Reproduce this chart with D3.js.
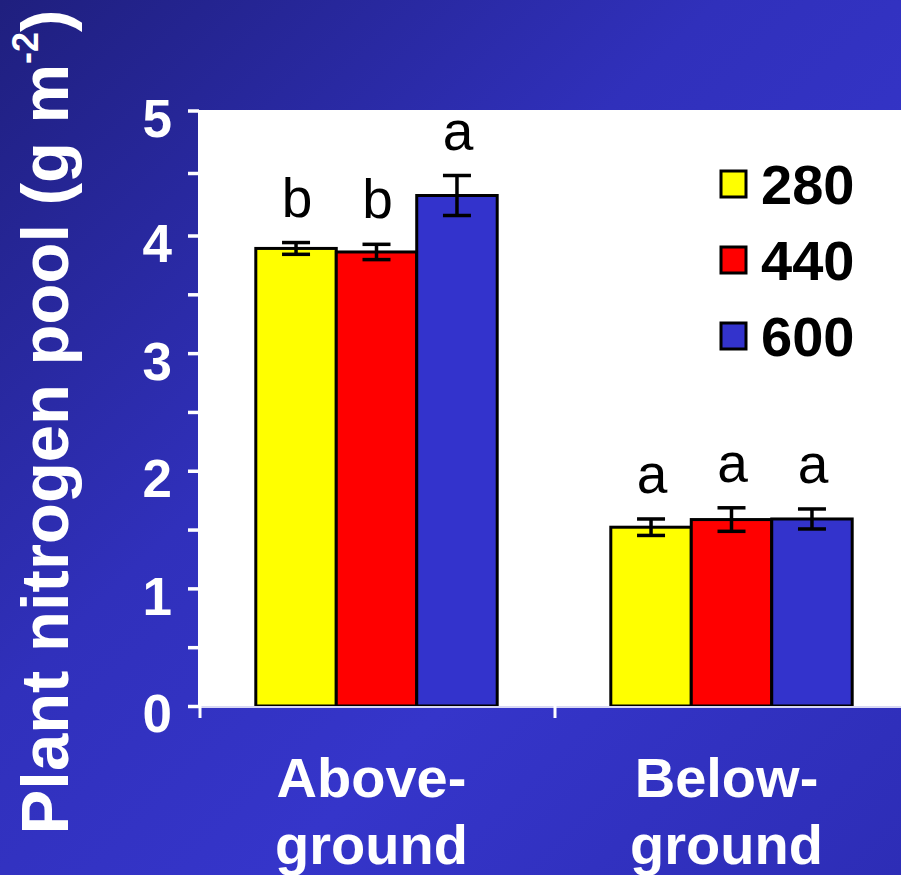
<!DOCTYPE html>
<html>
<head>
<meta charset="utf-8">
<script src="https://cdn.jsdelivr.net/npm/d3@7"></script>
<style>
  html, body { margin: 0; padding: 0; background: #2e2eb4; }
  svg { display: block; }
</style>
</head>
<body>
<svg id="chart" width="901" height="875"></svg>
<script>
// Plant nitrogen pool by compartment and CO2 treatment
const categories = ["Above-ground", "Below-ground"];
const categoryLines = [["Above-", "ground"], ["Below-", "ground"]];
const series = ["280", "440", "600"];
const seriesColors = ["#ffff00", "#ff0000", "#3333cc"];
const means280 = [3.89, 1.52];
const means440 = [3.86, 1.585];
const means600 = [4.32, 1.59];
const errors280 = [0.05, 0.07];
const errors440 = [0.065, 0.1];
const errors600 = [0.16, 0.085];
const letters280 = ["b", "a"];
const letters440 = ["b", "a"];
const letters600 = ["a", "a"];
const yTickValues = [0, 0.5, 1, 1.5, 2, 2.5, 3, 3.5, 4, 4.5, 5];

const meansBySeries = [means280, means440, means600];
const errorsBySeries = [errors280, errors440, errors600];
const lettersBySeries = [letters280, letters440, letters600];

const rows = [];
categories.forEach((cat, ci) => {
  series.forEach((s, si) => {
    rows.push({
      category: cat,
      series: s,
      color: seriesColors[si],
      value: meansBySeries[si][ci],
      err: errorsBySeries[si][ci],
      letter: lettersBySeries[si][ci]
    });
  });
});

const svg = d3.select("#chart");
const W = 901, H = 875;
const plotLeft = 199, plotTop = 110, plotBottom = 706;

// background gradient
const defs = svg.append("defs");
const grad = defs.append("linearGradient")
  .attr("id", "bg").attr("x1", 0).attr("y1", 0).attr("x2", 1).attr("y2", 1);
[[0, "#1f1f7e"], [0.4, "#3030bb"], [0.65, "#3535ca"], [1, "#2d2db6"]]
  .forEach(([o, c]) => grad.append("stop").attr("offset", o).attr("stop-color", c));
svg.append("rect").attr("width", W).attr("height", H).attr("fill", "url(#bg)");

// scales
const y = d3.scaleLinear().domain([0, 4, 5]).range([plotBottom, 235.5, 110.5]);
const x0 = d3.scaleBand().domain(categories).range([plotLeft, 909])
  .paddingInner(0.32).paddingOuter(0.16);
const x1 = d3.scaleBand().domain(series).range([0, x0.bandwidth()]);
const color = d3.scaleOrdinal().domain(series).range(seriesColors);

// plotting area
svg.append("rect")
  .attr("x", plotLeft).attr("y", plotTop)
  .attr("width", W - plotLeft).attr("height", plotBottom - plotTop)
  .attr("fill", "#ffffff");

// bars
const g = svg.append("g");
g.selectAll("rect.bar").data(rows).join("rect")
  .attr("class", "bar")
  .attr("x", d => x0(d.category) + x1(d.series))
  .attr("y", d => y(d.value))
  .attr("width", x1.bandwidth())
  .attr("height", d => y(0) - y(d.value))
  .attr("fill", d => color(d.series))
  .attr("stroke", "#000").attr("stroke-width", 3);

// error bars
const cap = 14;
const eb = g.selectAll("g.err").data(rows).join("g").attr("class", "err")
  .attr("transform", d => `translate(${x0(d.category) + x1(d.series) + x1.bandwidth() / 2},0)`);
eb.append("line")
  .attr("y1", d => y(d.value - d.err)).attr("y2", d => y(d.value + d.err))
  .attr("stroke", "#000").attr("stroke-width", 3.5);
eb.append("line")
  .attr("x1", -cap).attr("x2", cap)
  .attr("y1", d => y(d.value + d.err)).attr("y2", d => y(d.value + d.err))
  .attr("stroke", "#000").attr("stroke-width", 3.5);
eb.append("line")
  .attr("x1", -cap).attr("x2", cap)
  .attr("y1", d => y(d.value - d.err)).attr("y2", d => y(d.value - d.err))
  .attr("stroke", "#000").attr("stroke-width", 3.5);

// significance letters
g.selectAll("text.letter").data(rows).join("text")
  .attr("class", "letter")
  .attr("x", d => x0(d.category) + x1(d.series) + x1.bandwidth() / 2 + 1)
  .attr("y", d => y(d.value + d.err) - 26)
  .attr("text-anchor", "middle")
  .attr("font-family", "'Liberation Sans', Arial, sans-serif")
  .attr("font-size", 55)
  .attr("fill", "#000")
  .text(d => d.letter);

// y axis
const yAxis = d3.axisLeft(y)
  .tickValues(yTickValues)
  .tickSize(11)
  .tickPadding(16)
  .tickFormat(d => Number.isInteger(d) ? d3.format("d")(d) : "");
const ya = svg.append("g").attr("transform", `translate(${plotLeft},0)`).call(yAxis);
ya.select(".domain").attr("stroke", "#ffffff").attr("stroke-width", 2)
  .attr("d", `M0,${plotTop}V${plotBottom}`);
ya.selectAll(".tick line").attr("stroke", "#ffffff").attr("stroke-width", 3.5);
ya.selectAll(".tick text")
  .attr("fill", "#ffffff")
  .attr("font-family", "'Liberation Sans', Arial, sans-serif")
  .attr("font-weight", "bold")
  .attr("font-size", 53)
  .attr("y", 9);

// x axis line and category boundary ticks
svg.append("line")
  .attr("x1", plotLeft).attr("x2", W)
  .attr("y1", plotBottom + 1).attr("y2", plotBottom + 1)
  .attr("stroke", "#d8d8f4").attr("stroke-width", 2);
const boundaries = [x0.range()[0], x0.range()[0] + x0.step()];
svg.selectAll("line.xtick").data(boundaries).join("line")
  .attr("class", "xtick")
  .attr("x1", d => d + 1).attr("x2", d => d + 1)
  .attr("y1", plotBottom).attr("y2", plotBottom + 12)
  .attr("stroke", "#ffffff").attr("stroke-width", 3);

// category labels
const catLabels = svg.selectAll("text.cat").data(categories).join("text")
  .attr("class", "cat")
  .attr("text-anchor", "middle")
  .attr("font-family", "'Liberation Sans', Arial, sans-serif")
  .attr("font-weight", "bold")
  .attr("font-size", 56)
  .attr("fill", "#ffffff");
catLabels.each(function (d, i) {
  const cx = x0(d) + x0.bandwidth() / 2 - 5;
  d3.select(this).selectAll("tspan").data(categoryLines[i]).join("tspan")
    .attr("x", cx)
    .attr("y", (t, j) => 797 + j * 67)
    .text(t => t);
});

// y axis title
const title = svg.append("text")
  .attr("transform", "translate(68,422) rotate(-90)")
  .attr("text-anchor", "middle")
  .attr("font-family", "'Liberation Sans', Arial, sans-serif")
  .attr("font-weight", "bold")
  .attr("font-size", 67)
  .attr("fill", "#ffffff");
title.append("tspan").text("Plant nitrogen pool (g m");
title.append("tspan").attr("font-size", 36).attr("dy", -30).text("-2");
title.append("tspan").attr("dy", 30).text(")");

// legend
const legend = svg.append("g");
const li = legend.selectAll("g").data(series).join("g")
  .attr("transform", (d, i) => `translate(721,${171 + i * 76})`);
li.append("rect")
  .attr("width", 25).attr("height", 26)
  .attr("fill", d => color(d))
  .attr("stroke", "#000").attr("stroke-width", 3);
li.append("text")
  .attr("x", 40).attr("y", 33)
  .attr("font-family", "'Liberation Sans', Arial, sans-serif")
  .attr("font-weight", "bold")
  .attr("font-size", 56)
  .attr("fill", "#000")
  .text(d => d);
</script>
</body>
</html>
